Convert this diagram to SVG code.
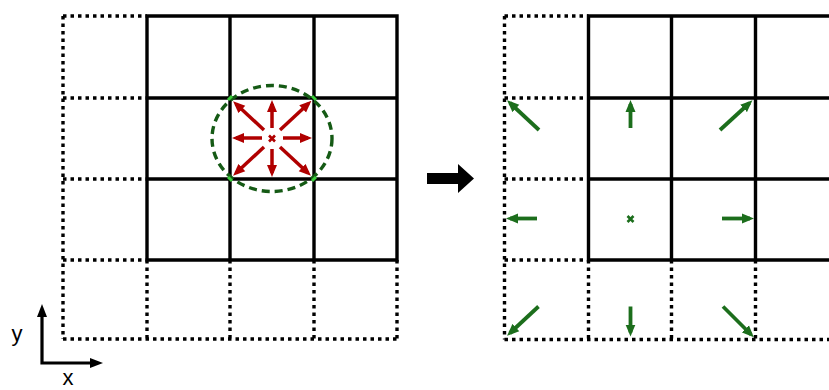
<svg xmlns="http://www.w3.org/2000/svg" width="829" height="390" viewBox="0 0 829 390">
<style>
.solid{stroke:#000;stroke-width:3.4;fill:none;stroke-linecap:square}
.dot{stroke:#000;stroke-width:3.4;fill:none;stroke-dasharray:3.5 4}
.red{stroke:#b00000;stroke-width:3.5;fill:none;marker-end:url(#hr)}
.grn{stroke:#1c6e1c;stroke-width:3.8;fill:none;marker-end:url(#hg)}
.lbl{font-family:"Liberation Sans",Arial,sans-serif;font-size:22px;fill:#000}
</style>
<defs>
<marker id="hr" markerUnits="userSpaceOnUse" markerWidth="12" markerHeight="11" refX="8" refY="5.5" orient="auto"><path d="M0,0.5 L12,5.5 L0,10.5 z" fill="#b00000"/></marker>
<marker id="hg" markerUnits="userSpaceOnUse" markerWidth="12" markerHeight="11" refX="8" refY="5.5" orient="auto"><path d="M0,0.5 L12,5.5 L0,10.5 z" fill="#1c6e1c"/></marker>
</defs>
<rect width="829" height="390" fill="#fff"/>

<g id="left-grid">
<path class="dot" d="M63,16H147M63,98H147M63,179H147M63,260H147M63,339H397M63,16V339M147,260V339M230,260V339M314,260V339M397,260V339"/>
<path class="solid" d="M147,16H397M147,98H397M147,179H397M147,260H397M147,16V260M230,16V260M314,16V260M397,16V260"/>
</g>

<g id="neighborhood">
<ellipse cx="272" cy="138.5" rx="60" ry="53" fill="none" stroke="#155a15" stroke-width="3.4" stroke-dasharray="8 5"/>
<path d="M228,100L232,96M312,96L316,100M228,177L232,181M312,181L316,177" stroke="#3ccf3c" stroke-width="3" fill="none"/>
</g>

<g id="red-arrows">
<line class="red" x1="272" y1="128" x2="272" y2="104"/>
<line class="red" x1="272" y1="149" x2="272" y2="173"/>
<line class="red" x1="262" y1="138" x2="236" y2="138"/>
<line class="red" x1="283" y1="138" x2="308" y2="138"/>
<line class="red" x1="280" y1="130" x2="308.5" y2="103.5"/>
<line class="red" x1="264" y1="130" x2="236" y2="104"/>
<line class="red" x1="264" y1="147" x2="236" y2="173"/>
<line class="red" x1="280" y1="147" x2="308" y2="173"/>
<path d="M269,135.5L275,141.5M275,135.5L269,141.5" stroke="#b00000" stroke-width="2.6"/>
</g>

<g id="transition-arrow">
<polygon points="427,173 458,173 458,164 474,178.5 458,193 458,184 427,184" fill="#000"/>
</g>

<g id="right-grid">
<path class="dot" d="M504.5,16H588.5M504.5,98H588.5M504.5,179H588.5M504.5,260H588.5M504.5,339.5H840M504.5,16V339.5M588.5,260V339.5M671.5,260V339.5M755.5,260V339.5"/>
<path class="solid" d="M588.5,16H840M588.5,98H840M588.5,179H840M588.5,260H840M588.5,16V260M671.5,16V260M755.5,16V260"/>
</g>

<g id="green-arrows">
<line class="grn" x1="539" y1="130" x2="510" y2="103"/>
<line class="grn" x1="630.5" y1="128" x2="630.5" y2="104"/>
<line class="grn" x1="720" y1="130" x2="749.5" y2="103"/>
<line class="grn" x1="537" y1="218.5" x2="510" y2="218.5"/>
<line class="grn" x1="722" y1="218.5" x2="750" y2="218.5"/>
<line class="grn" x1="538.5" y1="306.5" x2="510" y2="333"/>
<line class="grn" x1="630.5" y1="306.5" x2="630.5" y2="332.5"/>
<line class="grn" x1="723" y1="306.5" x2="751" y2="334.5"/>
<path d="M627.5,216L633.5,222M633.5,216L627.5,222" stroke="#1c6e1c" stroke-width="2.6"/>
</g>

<g id="axes">
<path d="M42,316V363H91" stroke="#000" stroke-width="3.2" fill="none" stroke-linejoin="miter"/>
<polygon points="42,304 37,317 47,317" fill="#000"/>
<polygon points="103,363 90,358 90,368" fill="#000"/>
<text class="lbl" x="17" y="341" text-anchor="middle">y</text>
<text class="lbl" x="68" y="385" text-anchor="middle">x</text>
</g>
</svg>
